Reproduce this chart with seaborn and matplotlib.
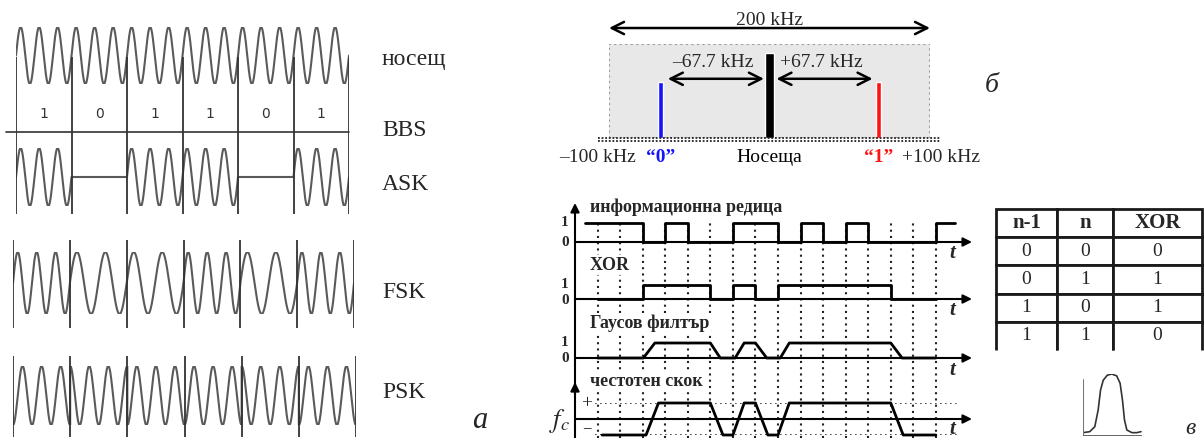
import numpy as np
import matplotlib
matplotlib.use("Agg")
import matplotlib.pyplot as plt
import seaborn as sns
from matplotlib.patches import Rectangle

sns.set_theme(style="white")
plt.rcParams['font.family'] = ['Liberation Serif', 'DejaVu Serif']
plt.rcParams['mathtext.fontset'] = 'stix'

# --- (а) modulation types ---
bits = [1, 0, 1, 1, 0, 1]
carrier_cycles = 3
fsk_cycles = [3, 2, 2, 3, 2, 3]
psk_phase = [180, 0, 180, 180, 0, 180]
row_names = ['носещ', 'BBS', 'ASK', 'FSK', 'PSK']

# --- (б) spectrum ---
tone_freq = [-67.7, 0, 67.7]
tone_level = [0.6, 0.9, 0.6]
tone_width = [3.2, 5.2, 3.2]
tone_names = ['“0”', 'Носеща', '“1”']
tone_colors = ['#1414ff', 'black', '#ff1414']
band = [-100, 100]

# --- (в) GMSK ---
info_t = [-0.55, 2, 3, 4, 6, 8, 9, 10, 11, 12, 15, 15.85]
info_v = [1, 0, 1, 0, 1, 0, 1, 0, 1, 0, 1, 1]
xor_t = [0, 2, 5, 6, 7, 8, 13, 15]
xor_v = [0, 1, 0, 1, 0, 1, 0, 0]
gauss_t = [0, 2.03, 2.54, 5, 5.44, 6.1, 6.5, 7, 7.5, 8.1, 8.5, 13, 13.5, 15]
gauss_v = [0, 0, 1, 1, 0, 0, 1, 1, 0, 0, 1, 1, 0, 0]
fc_t = [0.2, 2.15, 2.7, 5, 5.56, 6.0, 6.5, 7, 7.55, 8.0, 8.5, 13, 13.55, 15]
fc_v = [-1, -1, 1, 1, -1, -1, 1, 1, -1, -1, 1, 1, -1, -1]
row_titles = ['информационна редица', 'XOR', 'Гаусов филтър', 'честотен скок']
table_header = ['n-1', 'n', 'XOR']
xor_rows = [['0', '0', '0'], ['0', '1', '1'], ['1', '0', '1'], ['1', '1', '0']]
pulse_x = [0, 0.114, 0.2, 0.257, 0.297, 0.343, 0.411, 0.486, 0.571, 0.629, 0.669, 0.703, 0.743, 0.829, 0.914, 0.983]
pulse_y = [0.054, 0.07, 0.15, 0.42, 0.74, 0.90, 0.98, 1.0, 0.97, 0.85, 0.58, 0.26, 0.097, 0.054, 0.054, 0.07]

W, H = 1204, 438
fig = plt.figure(figsize=(W / 100, H / 100), dpi=100)
fig.patch.set_facecolor('white')


def box(x0, y0, x1, y1):
    ax = fig.add_axes([x0 / W, 1 - y1 / H, (x1 - x0) / W, (y1 - y0) / H])
    ax.set_axis_off()
    return ax


wave_kw = dict(color='#5a5a5a', linewidth=1.5, estimator=None, sort=False)


def wave(ax, cycles, phases=None, gate=None):
    xs, ys = [], []
    for i in range(len(bits)):
        t = np.linspace(0, 1, 300)
        if phases is None:
            s = np.sin(2 * np.pi * cycles[i] * t)
        else:
            s = np.cos(2 * np.pi * cycles[i] * t + np.deg2rad(phases[i]))
        if gate is not None and gate[i] == 0:
            s = np.zeros_like(t)
        xs.append(t + i)
        ys.append(s)
    sns.lineplot(x=np.concatenate(xs), y=np.concatenate(ys), ax=ax, **wave_kw)
    ax.set_xlim(0, len(bits))
    ax.set_ylim(-1, 1)
    ax.set_axis_off()


def bit_lines(ax):
    ax.set_xlim(0, len(bits)); ax.set_ylim(0, 1)
    ax.vlines(range(len(bits) + 1), 0, 1, colors='#333333', lw=1.3)


# carrier
ax = box(16, 27, 349, 84)
wave(ax, [carrier_cycles] * len(bits))
# BBS
ax = box(16, 95, 349, 132)
ax.set_xlim(0, len(bits)); ax.set_ylim(0, 1)
for i, b in enumerate(bits):
    ax.text(i + 0.5, 0.5, str(b), ha='center', va='center', fontsize=10,
            family='DejaVu Sans', color='#333333')
ax.plot([-0.18, len(bits)], [0, 0], color='#333333', lw=1.2, clip_on=False)
# ASK
ax = box(16, 148, 349, 206)
wave(ax, [carrier_cycles] * len(bits), gate=bits)
bit_lines(box(16, 57, 349, 214))
# FSK
ax = box(13, 252, 354, 314)
wave(ax, fsk_cycles)
bit_lines(box(13, 240, 354, 328))
# PSK
ax = box(13, 366, 356, 425)
wave(ax, [carrier_cycles] * len(bits), phases=psk_phase)
bit_lines(box(13, 356, 356, 437))

# --- (б) ---
axb = box(609, 44, 930, 138)
axb.set_xlim(band); axb.set_ylim(0, 1)
axb.add_patch(Rectangle((band[0], 0), band[1] - band[0], 1, facecolor='#e8e8e8',
                        edgecolor='#999999', lw=1.5, ls=':', zorder=0))
axb.bar(tone_freq, tone_level, width=tone_width, color=tone_colors, zorder=2)
for dy in (0, -0.035):
    axb.plot([-107, 107], [dy, dy], color='#222222', lw=1.3, ls=(0, (1, 1)), clip_on=False, zorder=3)
arrow = dict(arrowstyle='<->', lw=1.8, color='black', mutation_scale=22, shrinkA=0, shrinkB=0)
axb.annotate('', xy=(band[1], 1.17), xytext=(band[0], 1.17), arrowprops=arrow, annotation_clip=False)
axb.text(0, 1.255, '200 kHz', ha='center', va='center', fontsize=14)
arrow2 = dict(arrow, shrinkA=5, shrinkB=4)
axb.annotate('', xy=(tone_freq[1], 0.63), xytext=(tone_freq[0], 0.63), arrowprops=arrow2, annotation_clip=False)
axb.annotate('', xy=(tone_freq[2], 0.63), xytext=(tone_freq[1], 0.63), arrowprops=arrow2, annotation_clip=False)
axb.text(-35, 0.8, '–67.7 kHz', ha='center', va='center', fontsize=14)
axb.text(32, 0.8, '+67.7 kHz', ha='center', va='center', fontsize=14)
axb.text(-107, -0.21, '–100 kHz', ha='center', va='center', fontsize=14)
axb.text(107, -0.21, '+100 kHz', ha='center', va='center', fontsize=14)
for f, name, c in zip(tone_freq, tone_names, tone_colors):
    axb.text(f, -0.21, name, ha='center', va='center', fontsize=14, color=c,
             weight='normal' if f == 0 else 'bold')

# --- (в) ---
XL = (-1, 16.6)
axg = box(575, 222, 972, 438)
axg.set_xlim(XL); axg.set_ylim(0, 1)
axg.vlines(range(16), 0, 1, colors='#222222', lw=1.5, linestyles=[(0, (1, 2))])
tip = dict(arrowstyle='-|>', color='black', lw=1.5, mutation_scale=13, shrinkA=0, shrinkB=0)
axg.annotate('', xy=(-1, 1.088), xytext=(-1, 0), arrowprops=tip, annotation_clip=False)
axg.annotate('', xy=(-1, 0.259), xytext=(-1, 0.2), arrowprops=tip, annotation_clip=False)

rows = [((223, 242), info_t, info_v, True, (0, 1)),
        ((285, 299), xor_t, xor_v, True, (0, 1)),
        ((343, 358), gauss_t, gauss_v, False, (0, 1)),
        ((403, 435), fc_t, fc_v, False, (-1, 1))]
for (y0, y1), tt, vv, step, yl in rows:
    ax = box(575, y0, 972, y1)
    ax.set_xlim(XL); ax.set_ylim(yl)
    if yl[0] < 0:
        ax.hlines([-1, 1], -0.1, 16, colors='#333333', lw=1.2, linestyles=[(0, (1, 2))])
    ax.annotate('', xy=(XL[1], 0), xytext=(XL[0], 0), arrowprops=tip, annotation_clip=False)
    kw = dict(drawstyle='steps-post') if step else {}
    sns.lineplot(x=tt, y=vv, ax=ax, color='black', linewidth=2.0, estimator=None,
                 sort=False, **kw)
    for ln in ax.lines:
        ln.set_clip_on(False)
    ax.set_axis_off()

# text layer on top
ov = fig.add_axes([0, 0, 1, 1], zorder=10)
ov.patch.set_alpha(0)
ov.set_xlim(0, W); ov.set_ylim(H, 0)
ov.set_axis_off()

for name, y in zip(row_names, [60, 130, 185, 293, 393]):
    ov.text(382, y, name, ha='left', va='center', fontsize=17)
ov.text(480, 420, 'а', ha='center', va='center', fontsize=22, style='italic')
ov.text(992, 86, 'б', ha='center', va='center', fontsize=20, style='italic')
ov.text(1190, 428, 'в', ha='center', va='center', fontsize=17, style='italic')

for title, y in zip(row_titles, [207, 265, 323, 382]):
    ov.text(590, y, title, ha='left', va='center', fontsize=13, weight='bold',
            bbox=dict(facecolor='white', edgecolor='none', pad=1))
for lab, y in [('1', 223), ('0', 243), ('1', 285), ('0', 300), ('1', 343), ('0', 359)]:
    ov.text(565, y, lab, ha='center', va='center', fontsize=11, weight='bold')
for y in [253, 310, 370, 429]:
    ov.text(952, y, 't', ha='center', va='center', fontsize=15, weight='bold', style='italic')
ov.text(587, 404, '+', ha='center', va='center', fontsize=14)
ov.text(587, 429, '−', ha='center', va='center', fontsize=12)
ov.text(560, 421, '$f_c$', ha='center', va='center', fontsize=19)

# XOR table
axt = box(996, 209, 1202, 350)
tab = axt.table(cellText=xor_rows, colLabels=table_header, cellLoc='center',
                colWidths=[61, 56, 89], bbox=[0, 0, 1, 1])
tab.auto_set_font_size(False)
for (r, c), cell in tab.get_celld().items():
    cell.set_linewidth(2)
    cell.set_facecolor('white')
    cell.get_text().set_fontsize(15 if r == 0 else 14)
    cell.get_text().set_fontfamily(['Liberation Serif'])
    if r == 0:
        cell.get_text().set_fontweight('bold')
    if r == len(xor_rows):
        cell.visible_edges = 'LRT'

# gaussian pulse
axp = box(1083, 374, 1142, 436)
sns.lineplot(x=pulse_x, y=pulse_y, ax=axp, color='#333333', linewidth=1.2, estimator=None, sort=False)
axp.plot([0, 0], [0, 0.9], color='#777777', lw=1.5)
axp.plot([0, 1], [0, 0], color='#555555', lw=2)
axp.set_xlim(0, 1); axp.set_ylim(0, 1)
axp.set_axis_off()

fig.savefig('out.png', dpi=100)
